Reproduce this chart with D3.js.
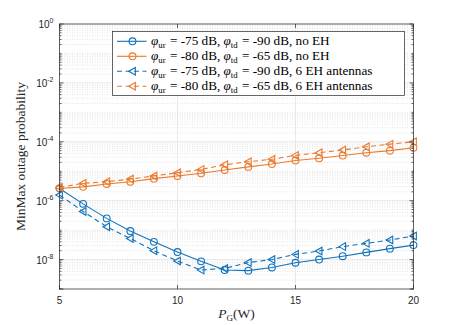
<!DOCTYPE html>
<html>
<head>
<meta charset="utf-8">
<script src="https://cdn.jsdelivr.net/npm/d3@7"></script>
<style>
  body { margin: 0; background: #fff; }
  #chart { width: 457px; height: 325px; }
</style>
</head>
<body>
<div id="chart"></div>
<script>
// x values (P_G in W)
const powerW = [5, 6, 7, 8, 9, 10, 11, 12, 13, 14, 15, 16, 17, 18, 19, 20];

// outage probability
const blueNoEH = [2.6e-6, 7.8e-7, 2.5e-7, 9.3e-8, 4.0e-8, 1.8e-8, 8.7e-9, 4.4e-9, 4.2e-9, 5.4e-9, 7.8e-9, 1.0e-8, 1.3e-8, 1.75e-8, 2.35e-8, 3.1e-8];
const orangeNoEH = [2.6e-6, 2.95e-6, 3.7e-6, 4.4e-6, 5.6e-6, 6.9e-6, 8.5e-6, 1.1e-5, 1.4e-5, 1.75e-5, 2.3e-5, 2.75e-5, 3.4e-5, 4.25e-5, 5.0e-5, 6.3e-5];
const blueEH = [1.55e-6, 4.3e-7, 1.3e-7, 5.2e-8, 2.0e-8, 8.9e-9, 4.4e-9, 5.0e-9, 7.9e-9, 1.0e-8, 1.5e-8, 1.95e-8, 2.75e-8, 3.55e-8, 4.6e-8, 6.3e-8];
const orangeEH = [2.8e-6, 3.9e-6, 4.4e-6, 5.4e-6, 6.9e-6, 8.9e-6, 1.15e-5, 1.65e-5, 2.1e-5, 2.55e-5, 3.45e-5, 4.25e-5, 5.25e-5, 6.75e-5, 8.3e-5, 1.0e-4];

const xTicks = [5, 10, 15, 20];
const yTickExp = [0, -2, -4, -6, -8];

// legend parts: [phi_ur, phi_td, suffix]
const legendText = [
  ["-75", "-90", "no EH"],
  ["-80", "-65", "no EH"],
  ["-75", "-90", "6 EH antennas"],
  ["-80", "-65", "6 EH antennas"]
];

const blue = "#0f72bd";
const orange = "#ea7a2c";

const series = [
  { values: blueNoEH, color: blue, dash: null, marker: "circle" },
  { values: orangeNoEH, color: orange, dash: null, marker: "circle" },
  { values: blueEH, color: blue, dash: "5,3.5", marker: "tri" },
  { values: orangeEH, color: orange, dash: "5,3.5", marker: "tri" }
];

const width = 457, height = 325;
const margin = { left: 59.5, right: 43.5, top: 24, bottom: 36 };
const plotW = width - margin.left - margin.right;
const plotH = height - margin.top - margin.bottom;

const svg = d3.select("#chart").append("svg")
    .attr("width", width)
    .attr("height", height);

const g = svg.append("g")
    .attr("transform", `translate(${margin.left},${margin.top})`);

const x = d3.scaleLinear().domain([5, 20]).range([0, plotW]);
const y = d3.scaleLog().domain([1e-9, 1]).range([plotH, 0]);

// minor values on log axis
const minorVals = [];
for (let e = -9; e < 0; e++) {
    for (let m = 1; m <= 9; m++) {
        const v = m * Math.pow(10, e);
        if (m === 1 && e % 2 === 0) continue;
        minorVals.push(v);
    }
}
const majorVals = yTickExp.map(e => Math.pow(10, e));

// grid
g.append("g").selectAll("line.minor")
    .data(minorVals)
    .enter().append("line")
    .attr("x1", 0).attr("x2", plotW)
    .attr("y1", d => y(d)).attr("y2", d => y(d))
    .attr("stroke", "#d4d4d4")
    .attr("stroke-width", 0.6)
    .attr("stroke-dasharray", "1,1.5");

g.append("g").selectAll("line.major")
    .data(majorVals)
    .enter().append("line")
    .attr("x1", 0).attr("x2", plotW)
    .attr("y1", d => y(d)).attr("y2", d => y(d))
    .attr("stroke", "#e2e2e2")
    .attr("stroke-width", 0.8);

g.append("g").selectAll("line.vgrid")
    .data(xTicks)
    .enter().append("line")
    .attr("x1", d => x(d)).attr("x2", d => x(d))
    .attr("y1", 0).attr("y2", plotH)
    .attr("stroke", "#e2e2e2")
    .attr("stroke-width", 0.8);

// lines and markers
const line = d3.line()
    .x((d, i) => x(powerW[i]))
    .y(d => y(d));

series.forEach(s => {
    g.append("path")
        .datum(s.values)
        .attr("fill", "none")
        .attr("stroke", s.color)
        .attr("stroke-width", 1.1)
        .attr("stroke-dasharray", s.dash)
        .attr("d", line);
});

function drawMarker(sel, kind, cx, cy, color) {
    if (kind === "circle") {
        sel.append("circle")
            .attr("cx", cx).attr("cy", cy).attr("r", 3.4)
            .attr("fill", "none")
            .attr("stroke", color)
            .attr("stroke-width", 1.1);
    } else {
        const r = 3.8;
        sel.append("path")
            .attr("d", `M${cx - r},${cy} L${cx + r * 0.75},${cy - r} L${cx + r * 0.75},${cy + r} Z`)
            .attr("fill", "none")
            .attr("stroke", color)
            .attr("stroke-width", 1.1);
    }
}

series.forEach(s => {
    const mg = g.append("g");
    s.values.forEach((v, i) => drawMarker(mg, s.marker, x(powerW[i]), y(v), s.color));
});

// axes box + ticks (inward, like matlab)
const axisColor = "#262626";
g.append("rect")
    .attr("width", plotW).attr("height", plotH)
    .attr("fill", "none")
    .attr("stroke", axisColor)
    .attr("stroke-width", 0.7);

const tickG = g.append("g").attr("stroke", axisColor).attr("stroke-width", 0.7);
xTicks.forEach(t => {
    tickG.append("line").attr("x1", x(t)).attr("x2", x(t)).attr("y1", plotH).attr("y2", plotH - 4);
    tickG.append("line").attr("x1", x(t)).attr("x2", x(t)).attr("y1", 0).attr("y2", 4);
});
majorVals.concat([1e-9]).forEach(v => {
    tickG.append("line").attr("x1", 0).attr("x2", 4).attr("y1", y(v)).attr("y2", y(v));
    tickG.append("line").attr("x1", plotW).attr("x2", plotW - 4).attr("y1", y(v)).attr("y2", y(v));
});
minorVals.forEach(v => {
    tickG.append("line").attr("x1", 0).attr("x2", 2).attr("y1", y(v)).attr("y2", y(v));
    tickG.append("line").attr("x1", plotW).attr("x2", plotW - 2).attr("y1", y(v)).attr("y2", y(v));
});

// tick labels
const tickFont = "'Liberation Sans', Arial, sans-serif";
g.append("g").selectAll("text")
    .data(xTicks)
    .enter().append("text")
    .attr("x", d => x(d))
    .attr("y", plotH + 15)
    .attr("text-anchor", "middle")
    .attr("font-family", tickFont)
    .attr("font-size", 10)
    .attr("fill", axisColor)
    .text(d => d);

const yLab = g.append("g").selectAll("text")
    .data(yTickExp)
    .enter().append("text")
    .attr("x", -6)
    .attr("y", d => y(Math.pow(10, d)) + 4)
    .attr("text-anchor", "end")
    .attr("font-family", tickFont)
    .attr("font-size", 10)
    .attr("fill", axisColor);
yLab.append("tspan").text("10");
yLab.append("tspan")
    .attr("dy", -5)
    .attr("font-size", 7)
    .text(d => d);

// axis titles
const serif = "'Liberation Serif', 'Times New Roman', serif";
svg.append("text")
    .attr("transform", `translate(25,${margin.top + plotH / 2}) rotate(-90)`)
    .attr("text-anchor", "middle")
    .attr("font-family", serif)
    .attr("font-size", 13.5)
    .attr("fill", axisColor)
    .text("MinMax outage probability");

const xt = svg.append("text")
    .attr("x", margin.left + plotW / 2)
    .attr("y", 318)
    .attr("text-anchor", "middle")
    .attr("font-family", serif)
    .attr("font-size", 13.5)
    .attr("fill", axisColor);
xt.append("tspan").attr("font-style", "italic").text("P");
xt.append("tspan").attr("font-size", 9).attr("dy", 2.5).text("G");
xt.append("tspan").attr("dy", -2.5).text("(W)");

// legend
const legX = 112.5 - margin.left, legY = 31.5 - margin.top;
const legW = 292, legH = 64;
const leg = g.append("g").attr("transform", `translate(${legX},${legY})`);
leg.append("rect")
    .attr("width", legW).attr("height", legH)
    .attr("fill", "#fff")
    .attr("stroke", axisColor)
    .attr("stroke-width", 0.7);

legendText.forEach((parts, i) => {
    const s = series[i];
    const cy = 9.8 + i * 15;
    leg.append("line")
        .attr("x1", 4.5).attr("x2", 34)
        .attr("y1", cy).attr("y2", cy)
        .attr("stroke", s.color)
        .attr("stroke-width", 1.1)
        .attr("stroke-dasharray", s.dash);
    drawMarker(leg, s.marker, 20, cy, s.color);

    const t = leg.append("text")
        .attr("x", 38.5)
        .attr("y", cy + 4)
        .attr("font-family", serif)
        .attr("font-size", 13.2)
        .attr("fill", "#000");
    t.append("tspan").attr("font-style", "italic").text("\u03C6");
    t.append("tspan").attr("font-size", 8.8).attr("dy", 2.5).text("ur");
    t.append("tspan").attr("dy", -2.5).attr("dx", 1).text(` = ${parts[0]} dB, `);
    t.append("tspan").attr("font-style", "italic").text("\u03C6");
    t.append("tspan").attr("font-size", 8.8).attr("dy", 2.5).text("td");
    t.append("tspan").attr("dy", -2.5).attr("dx", 1).text(` = ${parts[1]} dB, ${parts[2]}`);
});
</script>
</body>
</html>
